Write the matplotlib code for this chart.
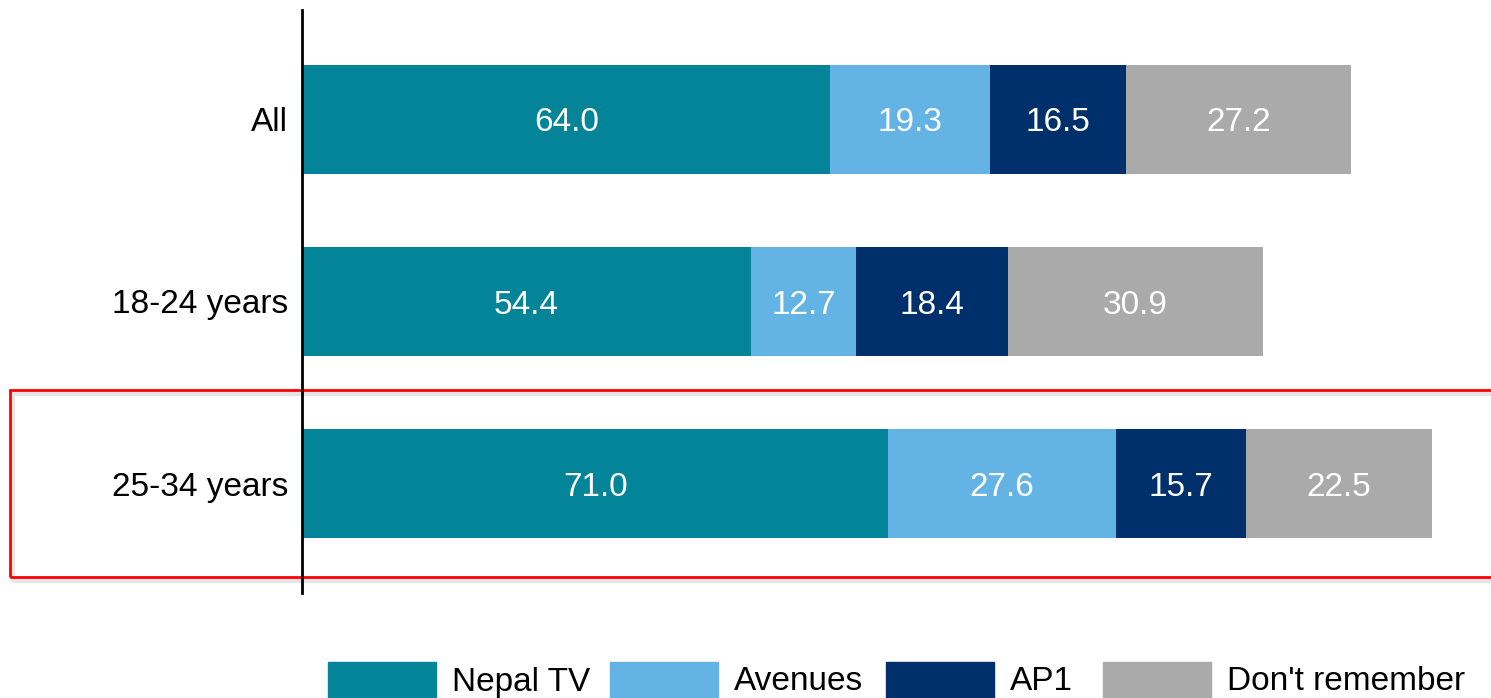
import matplotlib
matplotlib.use("Agg")
import matplotlib.pyplot as plt
from matplotlib.patches import Rectangle
import numpy as np

plt.rcParams['font.family'] = ['Liberation Sans', 'DejaVu Sans']

categories = ["All", "18-24 years", "25-34 years"]
series = ["Nepal TV", "Avenues", "AP1", "Don't remember"]
nepal_tv = [64.0, 54.4, 71.0]
avenues = [19.3, 12.7, 27.6]
ap1 = [16.5, 18.4, 15.7]
dont_remember = [27.2, 30.9, 22.5]
colors = ["#038499", "#63B4E4", "#00306B", "#AAAAAB"]

W, H = 1491, 698
fig = plt.figure(figsize=(W / 100, H / 100), dpi=100)
ax = fig.add_axes([302 / W, 1 - 593 / H, 1 - 302 / W, (593 - 10) / H])
ax.patch.set_alpha(0)
ax.set_zorder(2)

y = np.arange(len(categories))
left = np.zeros(len(categories))
for vals, col in zip([nepal_tv, avenues, ap1, dont_remember], colors):
    vals = np.array(vals)
    ax.barh(y, vals, left=left, height=0.6, color=col, edgecolor='none')
    for yi, l, v in zip(y, left, vals):
        ax.text(l + v / 2, yi, f"{v:.1f}", ha='center', va='center_baseline',
                color='white', fontsize=24)
    left += vals

ax.set_xlim(0, 144)
ax.set_ylim(2.6, -0.6)
ax.set_yticks(y)
ax.set_yticklabels(categories, fontsize=24)
ax.tick_params(axis='y', length=0, pad=10)
ax.set_xticks([])
for s in ['top', 'right', 'bottom']:
    ax.spines[s].set_visible(False)
ax.spines['left'].set_linewidth(2)
ax.spines['left'].set_color('black')

# highlight rectangle with soft shadow (behind the axes)
fig.patches.append(Rectangle((13 / W, 1 - 581 / H), (W + 20) / W, (187) / H,
                             transform=fig.transFigure, fill=False,
                             edgecolor='#e4e4e4', linewidth=3, zorder=0))
fig.patches.append(Rectangle((10 / W, 1 - 577 / H), (W + 20) / W, (187) / H,
                             transform=fig.transFigure, fill=False,
                             edgecolor='#ff0000', linewidth=2, zorder=1))

# legend drawn manually
patch_x = [328, 610, 886, 1103]
for px, name, col in zip(patch_x, series, colors):
    fig.patches.append(Rectangle((px / W, 1 - 700 / H), 108 / W, 38 / H,
                                 transform=fig.transFigure, color=col))
    fig.text((px + 124) / W, 1 - 682 / H, name, fontsize=24,
             va='center', ha='left')

fig.savefig("out.png", dpi=100)
